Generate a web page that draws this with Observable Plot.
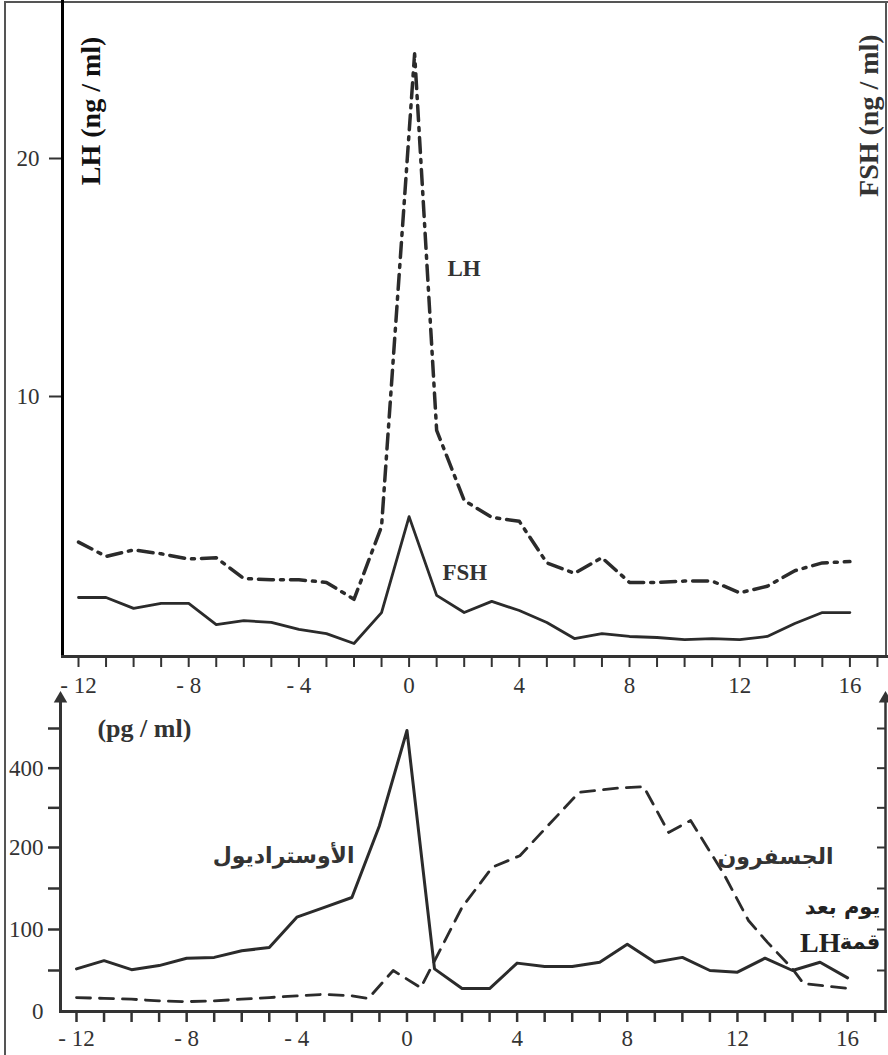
<!DOCTYPE html>
<html><head><meta charset="utf-8">
<script src="https://cdn.jsdelivr.net/npm/d3@7"></script>
<script src="https://cdn.jsdelivr.net/npm/@observablehq/plot@0.6"></script>
<style>
body{margin:0;background:#fff;}
#wrap{position:relative;width:888px;height:1055px;overflow:hidden;}
#border{position:absolute;left:4px;top:1px;width:890px;height:1070px;border-left:2px solid #555;border-top:2px solid #555;}
#rborder{position:absolute;left:885px;top:1px;width:0;height:656px;border-left:2px solid #555;}
#top,#bottom{position:absolute;left:0;}
#top{top:0;} #bottom{top:690px;}
</style></head>
<body>
<div id="wrap"><div id="border"></div><div id="rborder"></div><div id="top"></div><div id="bottom"></div></div>
<script>
// ---- Data: top panel (ng/ml), days relative to LH peak
const lhDays = [-12,-11,-10,-9,-8,-7,-6,-5,-4,-3,-2,-1,0.2,1,2,3,4,5,6,7,8,9,10,11,12,13,14,15,16];
const lhValues = [4.4,3.85,4.1,3.95,3.75,3.8,3.0,2.95,2.95,2.85,2.2,5.0,24.4,8.7,6.0,5.35,5.2,3.6,3.2,3.8,2.85,2.85,2.9,2.9,2.45,2.7,3.3,3.6,3.65];
const fshDays = [-12,-11,-10,-9,-8,-7,-6,-5,-4,-3,-2,-1,0,1,2,3,4,5,6,7,8,9,10,11,12,13,14,15,16];
const fshValues = [2.27,2.27,1.85,2.04,2.04,1.23,1.38,1.31,1.04,0.88,0.5,1.69,5.38,2.35,1.69,2.12,1.77,1.31,0.69,0.88,0.77,0.73,0.65,0.69,0.65,0.77,1.27,1.69,1.69];
// ---- Data: bottom panel (pg/ml)
const estradiolDays = [-12,-11,-10,-9,-8,-7,-6,-5,-4,-3,-2,-1,0,1,2,3,4,5,6,7,8,9,10,11,12,13,14,15,16];
const estradiolValues = [52,62,51,56,65,66,74,78,115,127,139,255,495,52,28,28,59,55,55,60,82,60,66,50,48,65,50,60,41];
const progDays = [-12,-11,-10,-9,-8,-7,-6,-5,-4,-3,-2,-1.4,-0.5,0.5,2,3.1,4.1,6.25,7.7,8.6,9.5,10.3,11.5,12.4,13.1,14,14.4,16.1];
const progValues = [17,16,15,13,12,13,15,17,19,21,19,16,50,29,127,176,190,339,350,353,238,268,168,111,84,52,34,28];
// ---- Tick labels
const dayTicks = d3.range(-12, 18);
const dayLabels = [-12,-8,-4,0,4,8,12,16];
const topYLabels = [10, 20];
const botYTicks = [50,100,150,200,300,400,500];
const botYLabels = [0,100,200,400];

const fmt = d => d < 0 ? "- " + Math.abs(d) : String(d);
const rows = (xs, ys) => xs.map((d, i) => ({day: d, v: ys[i]}));
const ink = "#2b2b2b";
const serif = "Liberation Serif, Times New Roman, serif";
const arab = "DejaVu Sans, Noto Sans, sans-serif";

// The original axes are drawn with uneven spacing; a piecewise warp reproduces them.
const warpTop = d3.scaleLinear().domain([0, 10, 20, 26.64]).range([0, 260, 498, 656]);
const warpBot = d3.scaleLinear().domain([0, 200, 500, 600]).range([0, 164, 283, 322.7]);
const labelTop = d => String(Math.round(warpTop.invert(d)));
const labelBot = d => String(Math.round(warpBot.invert(d)));

const topPlot = Plot.plot({
  width: 888, height: 700,
  marginLeft: 62, marginRight: 2, marginTop: 0, marginBottom: 44,
  style: {background: "transparent", overflow: "visible", fontFamily: serif, color: "#333"},
  x: {domain: [-12, 16], range: [78, 849.4], label: null},
  y: {transform: v => warpTop(v), domain: [0, 656], range: [656, 0], label: null},
  marks: [
    Plot.axisY({ticks: topYLabels.map(warpTop), tickSize: 13, tickPadding: 10, fontSize: 23, tickFormat: labelTop, label: null, strokeWidth: 2}),
    Plot.axisX({ticks: dayTicks, tickSize: 11, tickFormat: () => "", label: null, strokeWidth: 2}),
    Plot.axisX({ticks: dayLabels, tickSize: 0, tickPadding: 20, fontSize: 23, tickFormat: fmt, label: null}),
    Plot.frame({anchor: "left", stroke: "#000", strokeWidth: 3}),
    Plot.frame({anchor: "bottom", stroke: "#333", strokeWidth: 3}),
    Plot.line(rows(fshDays, fshValues), {x: "day", y: "v", stroke: ink, strokeWidth: 2.8}),
    Plot.line(rows(lhDays, lhValues), {x: "day", y: "v", stroke: ink, strokeWidth: 3.5, strokeDasharray: "15,7,3,7"}),
    Plot.text(["LH"], {text: d => d, x: 1.39, y: 15.38, textAnchor: "start", fontSize: 23, fontWeight: "bold", fill: "#333"}),
    Plot.text(["FSH"], {text: d => d, x: 1.21, y: 3.23, textAnchor: "start", fontSize: 23, fontWeight: "bold", fill: "#333"}),
    Plot.text(["LH (ng / ml)"], {text: d => d, x: -11.56, y: 22.0, rotate: -90, fontSize: 28, fontWeight: "bold", fill: "#111"}),
    Plot.text(["FSH (ng / ml)"], {text: d => d, x: 16.68, y: 21.8, rotate: -90, fontSize: 28, fontWeight: "bold", fill: "#333"})
  ]
});
document.getElementById("top").append(topPlot);

const xb = {domain: [-12, 16], range: [76, 847.1]};
const px2day = d3.scaleLinear(xb.range, xb.domain);
const leftDay = px2day(60), rightDay = px2day(885);
const botPlot = Plot.plot({
  width: 888, height: 365,
  marginLeft: 60, marginRight: 3, marginTop: 12, marginBottom: 44,
  style: {background: "transparent", overflow: "visible", fontFamily: serif, color: "#333"},
  x: {...xb, label: null},
  y: {transform: v => warpBot(v), domain: [0, 321], range: [321, 0], label: null},
  marks: [
    Plot.axisY({ticks: botYTicks.map(warpBot), tickSize: 12, tickFormat: () => "", label: null, strokeWidth: 2.5}),
    Plot.axisY({ticks: botYLabels.map(warpBot), tickSize: 0, tickPadding: 17, fontSize: 23, tickFormat: labelBot, label: null}),
    Plot.axisX({ticks: dayTicks, tickSize: 11, tickFormat: () => "", label: null, strokeWidth: 2.5}),
    Plot.axisX({ticks: dayLabels, tickSize: 0, tickPadding: 18, fontSize: 23, tickFormat: fmt, label: null}),
    Plot.frame({anchor: "left", stroke: "#333", strokeWidth: 3}),
    Plot.frame({anchor: "bottom", stroke: "#333", strokeWidth: 3}),
    Plot.frame({anchor: "right", stroke: "#333", strokeWidth: 2.5}),
    Plot.ruleY(botYTicks, {x1: px2day(877), x2: rightDay, stroke: "#333", strokeWidth: 2}),
    Plot.dot([0], {x: leftDay, y: 575, symbol: "triangle", r: 5, fill: "#333", stroke: "none"}),
    Plot.dot([0], {x: rightDay, y: 575, symbol: "triangle", r: 5, fill: "#333", stroke: "none"}),
    Plot.line(rows(progDays, progValues), {x: "day", y: "v", stroke: ink, strokeWidth: 2.8, strokeDasharray: "14,9"}),
    Plot.line(rows(estradiolDays, estradiolValues), {x: "day", y: "v", stroke: ink, strokeWidth: 3}),
    Plot.text(["(pg / ml)"], {text: d => d, x: -11.24, y: 500, textAnchor: "start", fontSize: 26, fontWeight: "bold", fill: "#333"}),
    Plot.text(["الأوستراديول"], {text: d => d, x: -4.48, y: 190, fontSize: 22, fontWeight: "bold", fontFamily: arab, fill: "#333"}),
    Plot.text(["الجسفرون"], {text: d => d, x: 13.38, y: 188, fontSize: 22, fontWeight: "bold", fontFamily: arab, fill: "#333"}),
    Plot.text(["يوم بعد"], {text: d => d, x: 17.19, y: 127, textAnchor: "end", fontSize: 21, fontWeight: "bold", fontFamily: arab, fill: "#222"}),
    Plot.text(["قمة"], {text: d => d, x: 17.19, y: 84, textAnchor: "end", fontSize: 21, fontWeight: "bold", fontFamily: arab, fill: "#222"}),
    Plot.text(["LH"], {text: d => d, x: px2day(840), y: 84, textAnchor: "end", fontSize: 28, fontWeight: "bold", fill: "#222"})
  ]
});
document.getElementById("bottom").append(botPlot);
</script>
</body></html>
